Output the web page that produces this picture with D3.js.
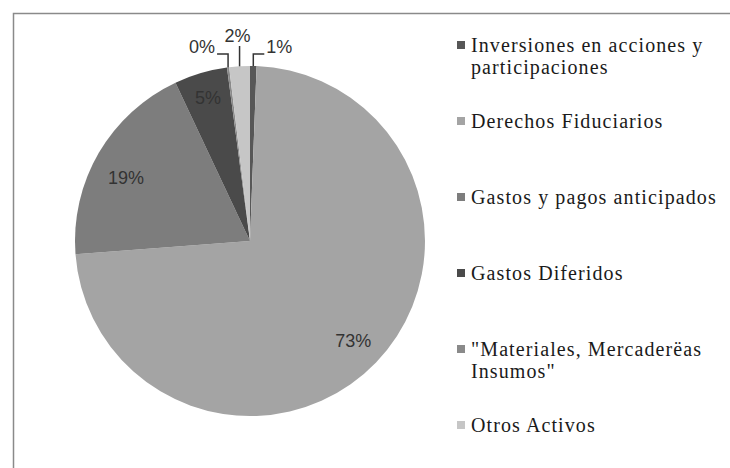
<!DOCTYPE html>
<html lang="es">
<head>
<meta charset="utf-8">
<style>
  body { margin: 0; background: #fff; }
</style>
</head>
<body>
<div id="chart"></div>
<script src="https://cdnjs.cloudflare.com/ajax/libs/d3/7.8.5/d3.min.js"></script>
<script>
    var WIDTH = 730;
    var HEIGHT = 468;

    // chart data
    var categories = ["Inversiones en acciones y participaciones", "Derechos Fiduciarios", "Gastos y pagos anticipados",
                      "Gastos Diferidos", "\"Materiales, Mercaderëas Insumos\"", "Otros Activos"];
    var legendLines = [["Inversiones en acciones y", "participaciones"], ["Derechos Fiduciarios"], ["Gastos y pagos anticipados"],
                       ["Gastos Diferidos"], ["\"Materiales, Mercaderëas", "Insumos\""], ["Otros Activos"]];
    var values = [0.6, 73.2, 19.2, 4.9, 0.2, 1.9];
    var colors = ["#575757", "#a4a4a4", "#7d7d7d", "#4a4a4a", "#8a8a8a", "#c6c6c6"];

    var svg = d3.select("#chart").append("svg").attr("width", WIDTH).attr("height", HEIGHT);

    // outer frame (clipped by window on right and bottom)
    svg.append("rect").attr("x", 13.5).attr("y", 13.5).attr("width", WIDTH).attr("height", HEIGHT)
      .attr("fill", "none").attr("stroke", "#8a8a8a").attr("stroke-width", 1.5);

    var cx = 250, cy = 241, R = 175;
    var total = d3.sum(values);
    var pct = d3.format(".0%");
    var sansFont = "Liberation Sans, Arial, sans-serif";
    var serifFont = "Liberation Serif, DejaVu Serif, Times New Roman, serif";

    var pie = d3.pie().sort(null).value(d => d).startAngle(0).endAngle(2 * Math.PI);
    var arcs = pie(values);
    var arc = d3.arc().innerRadius(0).outerRadius(R);

    var g = svg.append("g").attr("transform", "translate(" + cx + "," + cy + ")");
    g.selectAll("path").data(arcs).join("path")
      .attr("d", arc)
      .attr("fill", (d, i) => colors[i]);

    // inside labels for big slices
    var labelArc = d3.arc().innerRadius(R * 0.82).outerRadius(R * 0.82);
    g.selectAll("text.in").data(arcs.filter(d => d.value / total >= 0.04)).join("text")
      .attr("class", "in")
      .attr("transform", d => {
        var c = labelArc.centroid(d);
        // Excel nudges the narrow slice label outward
        if (d.value / total < 0.1) c = [c[0] * 1.04, c[1] * 1.04];
        if (d.value / total > 0.1 && d.value / total < 0.5) c = [c[0], c[1] * 0.88];
        return "translate(" + c + ")";
      })
      .attr("text-anchor", "middle").attr("dy", "0.35em")
      .attr("font-family", sansFont).attr("font-size", 18).attr("fill", "#333")
      .text(d => pct(d.value / total));

    // outside labels with leader lines for small slices
    var side = { 0: 1, 4: -1, 5: 0 };
    var elbowY = 54 - cy;
    arcs.forEach((d, i) => {
      if (d.value / total >= 0.04) return;
      var a = (d.startAngle + d.endAngle) / 2;
      var ax = Math.sin(a) * R, ay = -Math.cos(a) * R;
      var s = side[i];
      var label = g.append("text")
        .attr("font-family", sansFont).attr("font-size", 18).attr("fill", "#333")
        .text(pct(d.value / total));
      var line = g.append("path").attr("fill", "none").attr("stroke", "#333").attr("stroke-width", 1.5);
      if (s === 0) {
        line.attr("d", d3.line()([[ax, ay], [ax, elbowY - 8]]));
        label.attr("x", ax - 2).attr("y", elbowY - 12).attr("text-anchor", "middle");
      } else {
        line.attr("d", d3.line()([[ax, ay], [ax, elbowY], [ax + s * 11, elbowY]]));
        label.attr("x", ax + s * 13).attr("y", elbowY - 1).attr("text-anchor", s < 0 ? "end" : "start");
      }
    });

    // legend
    var ly = d3.scalePoint().domain(categories).range([45, 425]);
    var leg = svg.append("g").selectAll("g").data(categories).join("g")
      .attr("transform", d => "translate(0," + ly(d) + ")");
    leg.append("rect").attr("x", 457).attr("y", -4).attr("width", 8).attr("height", 8)
      .attr("fill", (d, i) => colors[i]);
    leg.append("text")
      .attr("x", 471)
      .attr("font-family", serifFont).attr("font-size", 20).attr("letter-spacing", 1.1).attr("fill", "#1a1a1a")
      .selectAll("tspan").data((d, i) => legendLines[i]).join("tspan")
      .attr("x", 471).attr("y", (t, j) => j * 22).attr("dy", "0.33em")
      .text(t => t);
</script>
</body>
</html>
